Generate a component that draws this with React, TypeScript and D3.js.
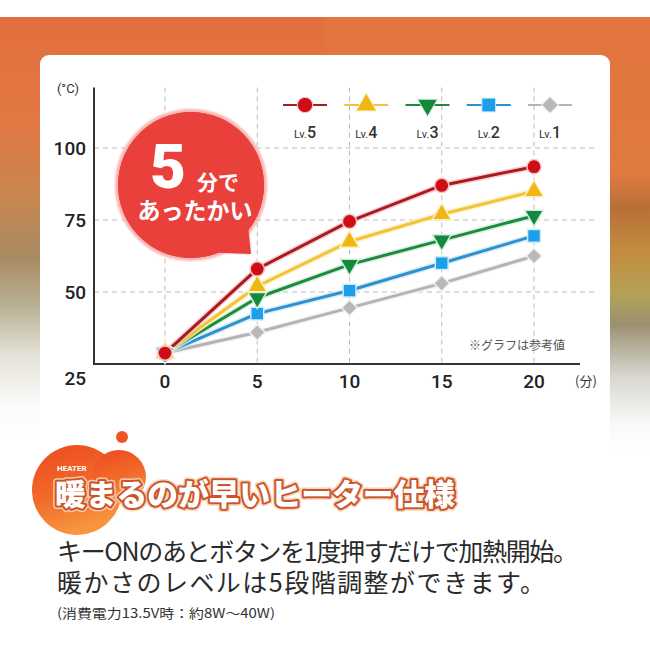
import React from "react";
import * as d3 from "d3";

// minutes after switching on
const minutes = [0, 5, 10, 15, 20];
// seat temperature (°C) per heater level
const lv5 = [28.8, 58, 74.5, 87, 93.5];
const lv4 = [28.8, 52, 67.5, 77, 85];
const lv3 = [28.8, 48, 59.5, 68, 76.5];
const lv2 = [28.8, 42.5, 50.5, 60, 69.5];
const lv1 = [28.8, 36, 44.5, 53, 62.5];
const yTicks = [100, 75, 50, 25];
const levelNames = ["Lv.5", "Lv.4", "Lv.3", "Lv.2", "Lv.1"];

const JP = "'Noto Sans CJK JP', 'Noto Sans', sans-serif";
const NUM = "Roboto, 'Noto Sans', sans-serif";

const series = [
  { name: "Lv.1", values: lv1, line: "#b4b4b4", fill: "#b8b8b8", halo: "#f2f2f2", type: d3.symbolSquare, size: 125, rot: 45 },
  { name: "Lv.2", values: lv2, line: "#2f8fcf", fill: "#1b9fe8", halo: "#cfeaf8", type: d3.symbolSquare, size: 165, rot: 0 },
  { name: "Lv.3", values: lv3, line: "#1d8a3f", fill: "#12893c", halo: "#d4eedb", type: d3.symbolTriangle, size: 150, rot: 180 },
  { name: "Lv.4", values: lv4, line: "#f1c433", fill: "#f0b612", halo: "#fbefc4", type: d3.symbolTriangle, size: 160, rot: 0 },
  { name: "Lv.5", values: lv5, line: "#a81b20", fill: "#cf0d17", halo: "#f8c6c6", type: d3.symbolCircle, size: 160, rot: 0 },
];

export default function App() {
  const x = d3.scaleLinear().domain([0, 20]).range([165, 534]);
  const y = d3.scaleLinear().domain([25, 100]).range([364, 148]);
  const legendX = d3.scalePoint<string>().domain(levelNames).range([305, 550]);

  const axisLeft = 94;
  const axisRight = 580;
  const gridRight = 598;
  const top = y(121);

  const line = d3
    .line<number>()
    .x((_, i) => x(minutes[i]))
    .y((d) => y(d));

  // speech bubble
  const bc = { cx: 191, cy: 185, r: 73 };
  const a1 = (38 * Math.PI) / 180;
  const a2 = (68 * Math.PI) / 180;
  const bubblePath = (() => {
    const p = d3.path();
    p.moveTo(bc.cx + bc.r * Math.cos(a1), bc.cy + bc.r * Math.sin(a1));
    p.arc(bc.cx, bc.cy, bc.r, a1, a2, true);
    p.lineTo(251, 254);
    p.closePath();
    return p.toString();
  })();

  return (
    <svg
      width={650}
      height={650}
      style={{ position: "absolute", left: 0, top: 0, display: "block" }}
      xmlns="http://www.w3.org/2000/svg"
    >
      <defs>
        <linearGradient id="bgL" gradientUnits="userSpaceOnUse" x1="0" y1="17" x2="0" y2="440">
          <stop offset="0" stopColor="#e26f3e" />
          <stop offset="0.25" stopColor="#e27843" />
          <stop offset="0.42" stopColor="#c9864f" />
          <stop offset="0.57" stopColor="#a98b63" />
          <stop offset="0.68" stopColor="#b8b093" />
          <stop offset="0.8" stopColor="#e4e2d8" />
          <stop offset="0.92" stopColor="#fbfbfa" />
          <stop offset="1" stopColor="#ffffff" />
        </linearGradient>
        <linearGradient id="bgR" gradientUnits="userSpaceOnUse" x1="0" y1="17" x2="0" y2="450">
          <stop offset="0" stopColor="#e3743f" />
          <stop offset="0.36" stopColor="#e07a40" />
          <stop offset="0.44" stopColor="#b96f37" />
          <stop offset="0.54" stopColor="#c38c3e" />
          <stop offset="0.64" stopColor="#b3a157" />
          <stop offset="0.71" stopColor="#9b9070" />
          <stop offset="0.83" stopColor="#d8d7d1" />
          <stop offset="0.94" stopColor="#f8f8f8" />
          <stop offset="1" stopColor="#ffffff" />
        </linearGradient>
        <linearGradient id="blob" x1="0" y1="0" x2="0.3" y2="1">
          <stop offset="0" stopColor="#ec4a1f" />
          <stop offset="0.6" stopColor="#f26a2a" />
          <stop offset="1" stopColor="#f7963e" />
        </linearGradient>
        <filter id="soft" x="-20%" y="-20%" width="140%" height="140%">
          <feGaussianBlur stdDeviation="1.2" />
        </filter>
      </defs>

      {/* background */}
      <rect width={650} height={650} fill="#fff" />
      <rect x={0} y={17} width={325} height={440} fill="url(#bgL)" />
      <rect x={325} y={17} width={325} height={440} fill="url(#bgR)" />
      <rect x={40} y={55} width={570} height={440} rx={9} fill="#fff" />

      {/* grid */}
      <g stroke="#bdbdbd" strokeWidth={1} strokeDasharray="5,4" fill="none">
        {yTicks
          .filter((t) => t > 25)
          .map((t) => (
            <line key={"h" + t} x1={axisLeft} x2={gridRight} y1={y(t)} y2={y(t)} />
          ))}
        {minutes.map((m) => (
          <line key={"v" + m} x1={x(m)} x2={x(m)} y1={top} y2={y(25)} />
        ))}
      </g>

      {/* axes */}
      <line x1={axisLeft} x2={axisLeft} y1={top} y2={y(25)} stroke="#333" strokeWidth={2} />
      <line x1={axisLeft - 1} x2={axisRight} y1={y(25)} y2={y(25)} stroke="#333" strokeWidth={2} />

      <text x={68} y={93} textAnchor="middle" fontFamily={NUM} fontSize={13} fill="#333">
        (°C)
      </text>
      {yTicks.map((t) => (
        <text
          key={"yt" + t}
          x={86}
          y={y(t) + (t === 25 ? 14 : 0)}
          dy="0.36em"
          textAnchor="end"
          fontFamily={NUM}
          fontWeight={500}
          fontSize={19}
          fill="#222"
        >
          {t}
        </text>
      ))}
      {minutes.map((m) => (
        <text
          key={"xt" + m}
          x={x(m)}
          y={381}
          dy="0.36em"
          textAnchor="middle"
          fontFamily={NUM}
          fontWeight={500}
          fontSize={19}
          fill="#222"
        >
          {m}
        </text>
      ))}
      <text x={586} y={381} dy="0.36em" textAnchor="middle" fontFamily={JP} fontSize={13} fill="#333">
        (分)
      </text>
      <text x={517} y={346} dy="0.36em" textAnchor="middle" fontFamily={JP} fontSize={12} fill="#555">
        ※グラフは参考値
      </text>

      {/* series */}
      {series.map((s) => (
        <g key={s.name}>
          <path d={line(s.values) ?? ""} fill="none" stroke={s.halo} strokeWidth={6} strokeOpacity={0.8} strokeLinejoin="round" />
          <path d={line(s.values) ?? ""} fill="none" stroke={s.line} strokeWidth={3} strokeLinejoin="round" />
        </g>
      ))}
      {series.map((s) =>
        s.values.map((v, i) => (
          <path
            key={s.name + i}
            d={d3.symbol().type(s.type).size(s.size)() ?? ""}
            transform={`translate(${x(minutes[i])},${y(v)}) rotate(${s.rot})`}
            fill={s.fill}
            stroke={s.halo}
            strokeWidth={1.5}
          />
        ))
      )}

      {/* legend */}
      {series.map((s) => {
        const cx = legendX(s.name) ?? 0;
        return (
          <g key={"lg" + s.name} transform={`translate(${cx},105)`}>
            <line x1={-22} x2={22} y1={0} y2={0} stroke={s.line} strokeWidth={2} />
            <path
              d={d3.symbol().type(s.type).size(s.size * 1.15)() ?? ""}
              transform={`rotate(${s.rot})`}
              fill={s.fill}
              stroke={s.halo}
              strokeWidth={1}
            />
            <text x={0} y={33} textAnchor="middle" fontFamily={NUM} fill="#333">
              <tspan fontSize={11}>{s.name.slice(0, 3)}</tspan>
              <tspan fontSize={16} fontWeight={500}>
                {s.name.slice(3)}
              </tspan>
            </text>
          </g>
        );
      })}

      {/* bubble */}
      <circle cx={bc.cx} cy={bc.cy} r={bc.r + 1} fill="none" stroke="#f6b3b0" strokeWidth={4} filter="url(#soft)" />
      <path d={bubblePath} fill="#f6b3b0" filter="url(#soft)" />
      <circle cx={bc.cx} cy={bc.cy} r={bc.r} fill="#e9403c" />
      <path d={bubblePath} fill="#e9403c" />
      <text x={150} y={188} fontFamily={NUM} fontWeight={900} fontSize={62} fill="#fff">
        5
      </text>
      <text x={197} y={190} fontFamily={JP} fontWeight={700} fontSize={21} fill="#fff">
        分で
      </text>
      <text x={bc.cx + 4} y={219} textAnchor="middle" fontFamily={JP} fontWeight={700} fontSize={23} fill="#fff">
        あったかい
      </text>

      {/* heading */}
      <circle cx={122} cy={437} r={6} fill="#ee5524" />
      <circle cx={77} cy={490} r={45} fill="url(#blob)" />
      <circle cx={119} cy={477} r={27} fill="url(#blob)" />
      <text x={57} y={471} fontFamily={NUM} fontWeight={700} fontSize={8} fill="#fff">
        HEATER
      </text>
      <text
        x={55}
        y={505}
        textLength={400}
        lengthAdjust="spacingAndGlyphs"
        fontFamily={JP}
        fontWeight={900}
        fontSize={30}
        fill="#fff"
        stroke="#fbd2b8"
        strokeWidth={7}
        strokeLinejoin="round"
        opacity={0.9}
      >
        暖まるのが早いヒーター仕様
      </text>
      <text
        x={55}
        y={505}
        textLength={400}
        lengthAdjust="spacingAndGlyphs"
        fontFamily={JP}
        fontWeight={900}
        fontSize={30}
        fill="#fff"
        stroke="#c9552a"
        strokeWidth={4}
        strokeLinejoin="round"
        paintOrder="stroke"
      >
        暖まるのが早いヒーター仕様
      </text>

      {/* body text */}
      <text x={57} y={561} textLength={521} lengthAdjust="spacing" fontFamily={JP} fontSize={25} fill="#2a2a2a">
        キーONのあとボタンを1度押すだけで加熱開始。
      </text>
      <text x={57} y={592} textLength={488} lengthAdjust="spacing" fontFamily={JP} fontSize={25} fill="#2a2a2a">
        暖かさのレベルは5段階調整ができます。
      </text>
      <text x={57} y={618} textLength={218} lengthAdjust="spacingAndGlyphs" fontFamily={JP} fontSize={13} fill="#333">
        (消費電力13.5V時：約8W～40W)
      </text>
    </svg>
  );
}
